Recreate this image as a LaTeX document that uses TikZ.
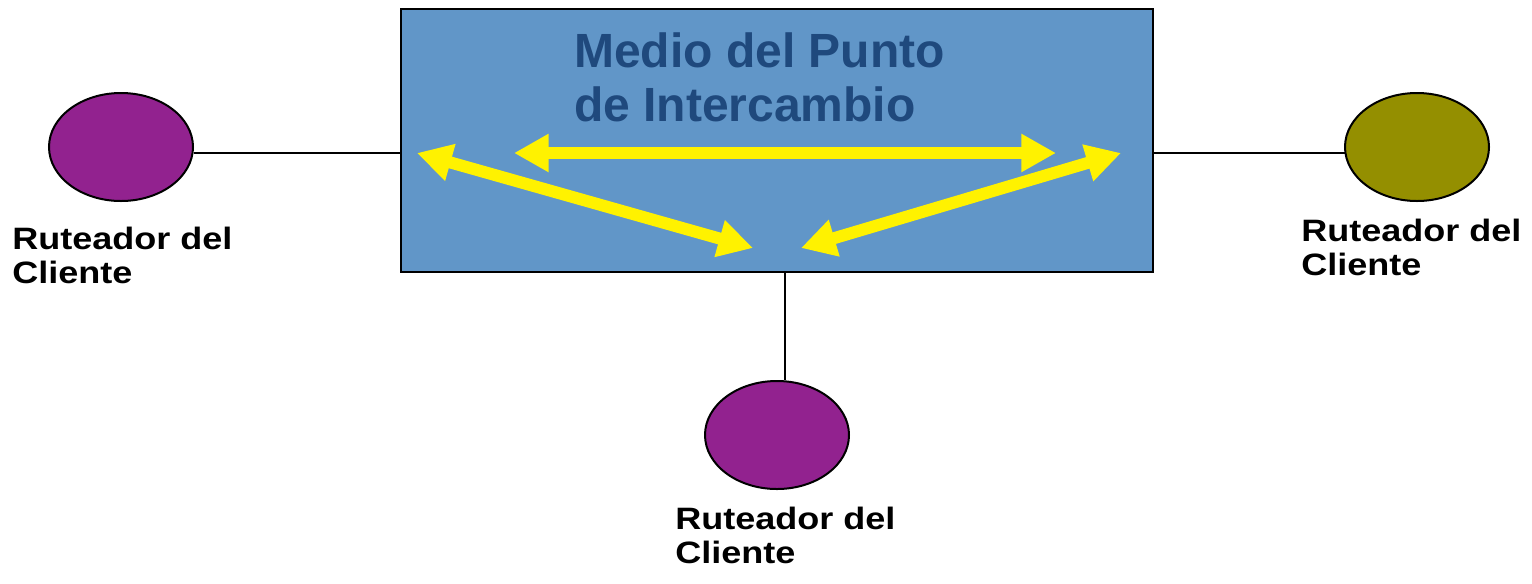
\documentclass[tikz,border=0pt]{standalone}
\usepackage{fontspec}
\setmainfont{Liberation Sans}
\newfontfamily\labelfont{Liberation Sans}[FakeStretch=1.165]
\usetikzlibrary{arrows.meta,shapes.geometric}
\definecolor{mediumblue}{HTML}{6196C8}
\definecolor{titleblue}{HTML}{1F497D}
\definecolor{routerpurple}{HTML}{92228F}
\definecolor{routerolive}{HTML}{948F00}

\begin{document}
\begin{tikzpicture}[x=0.75pt, y=-0.75pt,
        router_style/.style={ellipse,draw=black,line width=1.5pt,minimum width=108pt,minimum height=81pt,inner sep=0pt},
        medium_style/.style={rectangle,draw=black,line width=1.5pt,fill=mediumblue,minimum width=564pt,minimum height=197.25pt,inner sep=0pt},
        title_style/.style={anchor=north west,inner sep=0pt,align=left,text=titleblue,font=\fontsize{36pt}{40.5pt}\selectfont\bfseries},
        label_style/.style={anchor=north west,inner sep=0pt,align=left,font=\labelfont\fontsize{23.2pt}{25pt}\selectfont\bfseries},
        edge_style/.style={draw=black,line width=1.5pt},
        arrow_style/.style={draw=yellow,line width=9pt,{Triangle[length=26pt,width=27pt]}-{Triangle[length=26pt,width=27pt]}}]
        \useasboundingbox (0,0) rectangle (1532,583);

        \node [medium_style](m) at (777,140.5) {};
        \node [title_style](t) at (574,32) {Medio del Punto\\de Intercambio};

        \node [router_style,fill=routerpurple](r1) at (121,147) {};
        \node [router_style,fill=routerolive](r2) at (1417,147) {};
        \node [router_style,fill=routerpurple](r3) at (777,435) {};

        \node [label_style](l1) at (12,227) {Ruteador del\\Cliente};
        \node [label_style](l2) at (1301,219) {Ruteador del\\Cliente};
        \node [label_style](l3) at (675,507) {Ruteador del\\Cliente};

        % links to the exchange medium
        \draw [edge_style] (r1.-5) -- (r1.-5 -| m.west);
        \draw [edge_style] (r2.-175) -- (r2.-175 -| m.east);
        \draw [edge_style] (r3.82) -- (r3.82 |- m.south);

        % traffic inside the medium
        \coordinate (a1) at (514,153);
        \coordinate (a2) at (1056,153);
        \coordinate (a3) at (417,153);
        \coordinate (a4) at (753,248);
        \coordinate (a5) at (1121,153);
        \coordinate (a6) at (801,248);
        \draw [arrow_style] (a1) -- (a2);
        \draw [arrow_style] (a3) -- (a4);
        \draw [arrow_style] (a5) -- (a6);
\end{tikzpicture}
\end{document}
